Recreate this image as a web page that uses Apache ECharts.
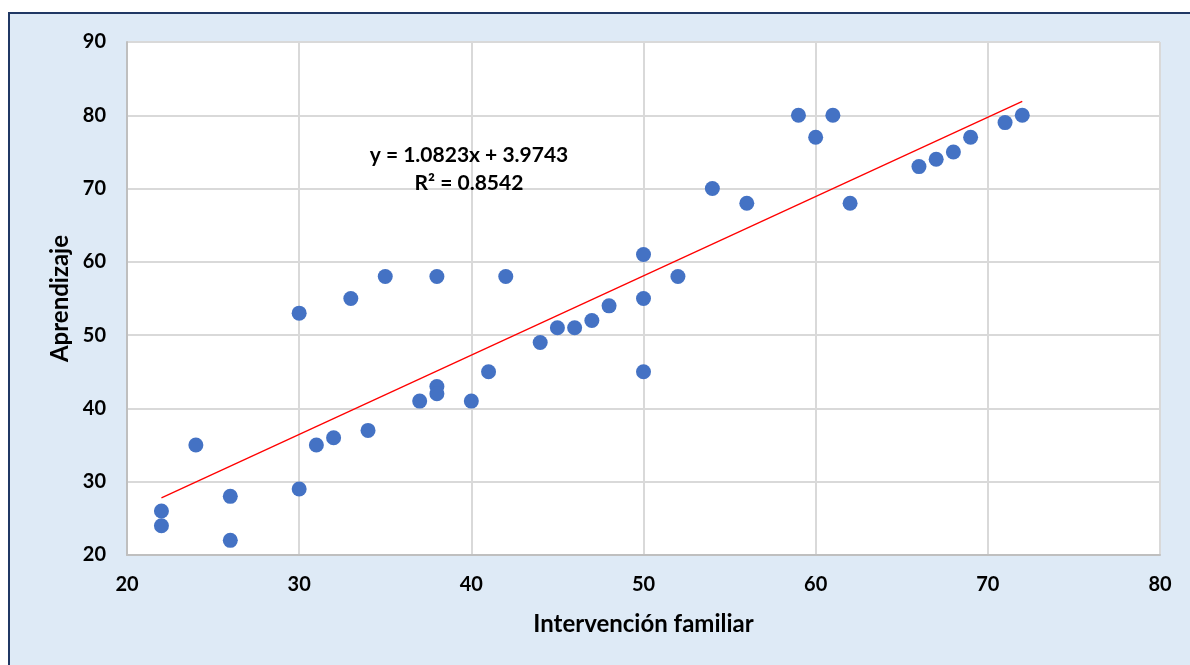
<!DOCTYPE html>
<html><head><meta charset="utf-8">
<script src="https://cdn.jsdelivr.net/npm/echarts@6/dist/echarts.min.js"></script>
<style>
html,body{margin:0;padding:0;background:#fff;width:1190px;height:665px;overflow:hidden;}
#frame{position:absolute;left:8px;top:12px;width:1200px;height:680px;background:#DEEAF6;border:2px solid #203864;box-sizing:border-box;}
#chart{position:absolute;left:0;top:0;width:1190px;height:665px;}
</style></head>
<body><div id="frame"></div><div id="chart"></div>
<script>
const xValues = [22,22,24,26,26,30,30,31,32,33,34,35,37,38,38,38,40,41,42,44,45,46,47,48,50,50,50,52,54,56,59,60,61,62,66,67,68,69,71,72];
const yValues = [26,24,35,28,22,53,29,35,36,55,37,58,41,58,43,42,41,45,58,49,51,51,52,54,61,55,45,58,70,68,80,77,80,68,73,74,75,77,79,80];
const trendCoef = [1.0823, 3.9743];
const trendText = ['y = 1.0823x + 3.9743', 'R² = 0.8542'];
const xTicks = [20,30,40,50,60,70,80];
const yTicks = [20,30,40,50,60,70,80,90];

const pts = xValues.map((x,i)=>[x,yValues[i]]);
const xmin = Math.min(...xValues), xmax = Math.max(...xValues);
const trend = [[xmin, trendCoef[0]*xmin+trendCoef[1]],[xmax, trendCoef[0]*xmax+trendCoef[1]]];
const font = 'Lato, "Open Sans", sans-serif';
const chart = echarts.init(document.getElementById('chart'));
chart.setOption({
  backgroundColor: 'transparent',
  animation: false,
  grid: {left:127, right:30, top:42, bottom:110, show:true, backgroundColor:'#fff', borderColor:'#D9D9D9', borderWidth:1},
  xAxis: {type:'value', min:xTicks[0], max:xTicks[xTicks.length-1], interval:10,
    name:'Intervención familiar', nameLocation:'middle', nameGap:57,
    nameTextStyle:{fontFamily:font, fontWeight:'bold', fontSize:24, color:'#000'},
    axisLine:{show:true, lineStyle:{color:'#BFBFBF', width:2}}, axisTick:{show:false},
    axisLabel:{fontFamily:font, fontWeight:'bold', fontSize:20, color:'#000', margin:20},
    splitLine:{show:true, lineStyle:{color:'#D9D9D9', width:2}}},
  yAxis: {type:'value', min:yTicks[0], max:yTicks[yTicks.length-1], interval:10,
    name:'Aprendizaje', nameLocation:'middle', nameGap:53, nameRotate:90,
    nameTextStyle:{fontFamily:font, fontWeight:'bold', fontSize:24, color:'#000'},
    axisLine:{show:true, lineStyle:{color:'#BFBFBF', width:2}}, axisTick:{show:false},
    axisLabel:{fontFamily:font, fontWeight:'bold', fontSize:20, color:'#000', margin:21},
    splitLine:{show:true, lineStyle:{color:'#D9D9D9', width:2}}},
  series: [
    {type:'line', data:trend, symbol:'none', lineStyle:{color:'#FF0000', width:1.3}, z:3},
    {type:'scatter', data:pts, symbol:'circle', symbolSize:15, itemStyle:{color:'#4472C4', opacity:1}, z:4}
  ],
  graphic: [
    {type:'text', z:100, zlevel:0, x:469, y:155, style:{text:trendText[0], align:'center', verticalAlign:'middle', fontFamily:font, fontWeight:'bold', fontSize:21, fill:'#000'}},
    {type:'text', z:100, zlevel:0, x:469, y:183, style:{text:trendText[1], align:'center', verticalAlign:'middle', fontFamily:font, fontWeight:'bold', fontSize:21, fill:'#000'}}
  ]
});
</script></body></html>
